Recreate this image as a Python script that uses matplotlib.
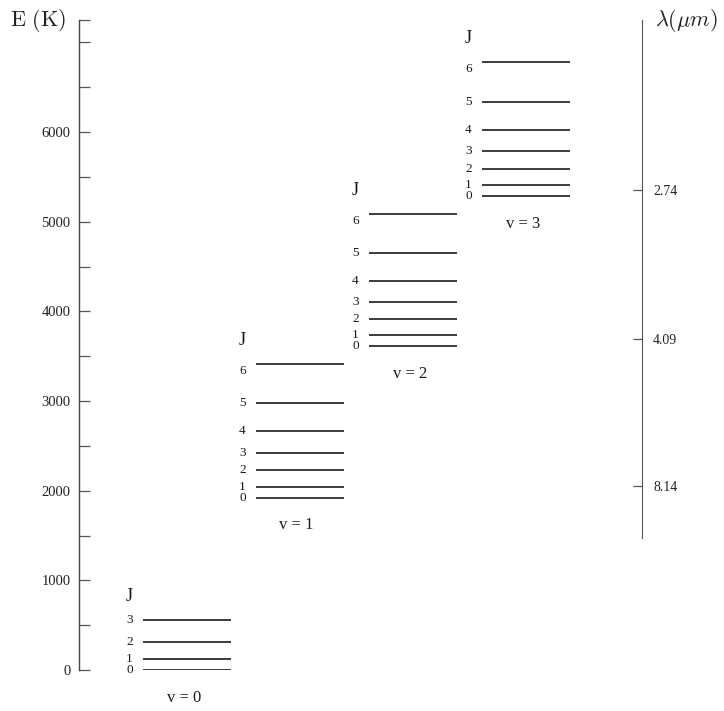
import matplotlib
matplotlib.use('Agg')
import matplotlib.pyplot as plt

plt.rcParams['font.family'] = ['Liberation Serif', 'DejaVu Serif']
plt.rcParams['mathtext.fontset'] = 'cm'

# level energies in K, index = J
E_v0 = [0, 122, 311, 556]
E_v1 = [1922, 2044, 2233, 2422, 2667, 2978, 3411]
E_v2 = [3611, 3733, 3911, 4100, 4344, 4656, 5089]
E_v3 = [5289, 5411, 5589, 5789, 6022, 6333, 6778]
bands = [E_v0, E_v1, E_v2, E_v3]

E_major = [0, 1000, 2000, 3000, 4000, 5000, 6000]
E_minor = [500, 1500, 2500, 3500, 4500, 5500, 6500, 7000, 7250]

lam_E = [5356, 3689, 2056]
lam_labels = ['2.74', '4.09', '8.14']

fig = plt.figure(figsize=(7.24, 7.11), dpi=100)
ax = fig.add_axes([79/724, 41/711, (642-79)/724, 650/711])
ax.set_xlim(-0.956, 4.026)
ax.set_ylim(0, 7250)
for s in ['top', 'bottom', 'right']:
    ax.spines[s].set_visible(False)
ax.spines['left'].set_color('#444')
ax.spines['left'].set_linewidth(1.0)
ax.set_xticks([])
ax.set_yticks(E_major)
ax.set_yticklabels([str(e) for e in E_major])
ax.set_yticks(E_minor, minor=True)
ax.tick_params(axis='y', which='both', direction='in', length=8, width=0.9,
               color='#555', labelsize=10.5, pad=6, labelcolor='#222')

# wavelength scale on the right
ax2 = ax.twinx()
ax2.set_ylim(0, 7250)
for s in ['top', 'bottom', 'left']:
    ax2.spines[s].set_visible(False)
ax2.spines['right'].set_bounds(1467, 7250)
ax2.spines['right'].set_color('#555')
ax2.set_yticks(lam_E)
ax2.set_yticklabels(lam_labels)
ax2.tick_params(axis='y', direction='in', length=6.5, width=0.9, color='#555',
                labelsize=10, pad=8, labelcolor='#222')

for v, E in enumerate(bands):
    ax.hlines(E, v - 0.39, v + 0.39, color='#1a1a1a', lw=1.2)
    for J, e in enumerate(E):
        dy = -5 if J == 6 else 0
        ax.annotate(str(J), (v - 0.51, e), xytext=(0, dy), textcoords='offset points',
                    ha='center', va='center', fontsize=9.5, color='#1a1a1a')
    ax.annotate('J', (v - 0.51, E[-1]), xytext=(0, 17), textcoords='offset points',
                ha='center', va='center', fontsize=13, color='#1a1a1a')
    ax.annotate(f'v = {v}', (v - 0.03, E[0]), xytext=(0, -20), textcoords='offset points',
                ha='center', va='center', fontsize=12, color='#1a1a1a')

fig.text(10/724, 1 - 20/711, r'$\mathrm{E\ (K)}$', fontsize=16, va='center', ha='left', color='#222')
fig.text(655/724, 1 - 20/711, r'$\lambda(\mu m)$', fontsize=16, va='center', ha='left', color='#222')

fig.savefig('out.png', dpi=100)
